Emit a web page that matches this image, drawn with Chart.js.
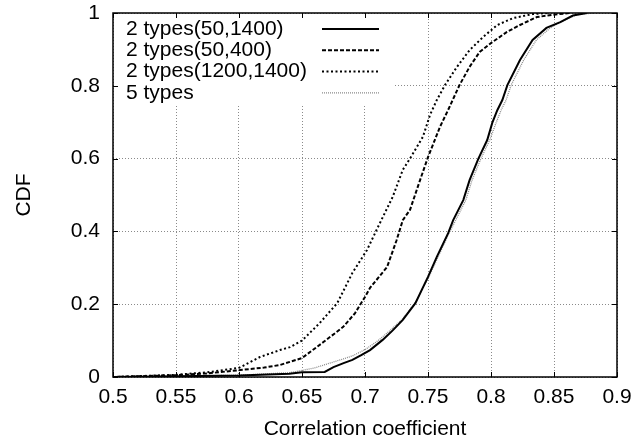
<!DOCTYPE html>
<html lang="en">
<head>
  <meta charset="UTF-8" />
  <title>CDF of correlation coefficient</title>
  <script src="https://cdn.jsdelivr.net/npm/chart.js"></script>
  <style>
    * { margin: 0; padding: 0; box-sizing: border-box; }
    body { background: white; width: 635px; height: 444px; overflow: hidden; }
    canvas { display: block; }
  </style>
</head>
<body>
<canvas id="cdfChart" width="635" height="444"></canvas>
<script>
// tick positions and labels
const xTicks = [0.5, 0.55, 0.6, 0.65, 0.7, 0.75, 0.8, 0.85, 0.9];
const xTickLabels = ['0.5', '0.55', '0.6', '0.65', '0.7', '0.75', '0.8', '0.85', '0.9'];
const yTicks = [0, 0.2, 0.4, 0.6, 0.8, 1];
const yTickLabels = ['0', '0.2', '0.4', '0.6', '0.8', '1'];

const seriesNames = ['2 types(50,1400)', '2 types(50,400)', '2 types(1200,1400)', '5 types'];

// 2 types(50,1400)
const x50_1400 = [0.50, 0.55, 0.60, 0.64, 0.650, 0.668, 0.675, 0.683, 0.690, 0.697, 0.704, 0.714, 0.722, 0.730, 0.740, 0.750, 0.757, 0.766, 0.770, 0.778, 0.783, 0.790, 0.797, 0.801, 0.805, 0.809, 0.813, 0.823, 0.833, 0.844, 0.855, 0.865, 0.876];
const y50_1400 = [0, 0.002, 0.004, 0.009, 0.013, 0.014, 0.027, 0.038, 0.047, 0.060, 0.074, 0.102, 0.128, 0.157, 0.203, 0.275, 0.330, 0.395, 0.431, 0.486, 0.541, 0.600, 0.651, 0.698, 0.733, 0.761, 0.802, 0.871, 0.926, 0.959, 0.975, 0.993, 1.0];

// 2 types(50,400)
const x50_400 = [0.50, 0.55, 0.575, 0.601, 0.620, 0.6325, 0.650, 0.667, 0.6825, 0.692, 0.700, 0.704, 0.7175, 0.725, 0.730, 0.7357, 0.7437, 0.750, 0.7595, 0.7667, 0.775, 0.783, 0.791, 0.801, 0.8127, 0.823, 0.8365, 0.849, 0.862];
const y50_400 = [0, 0.005, 0.010, 0.019, 0.026, 0.033, 0.052, 0.096, 0.137, 0.175, 0.220, 0.245, 0.302, 0.375, 0.431, 0.459, 0.541, 0.604, 0.687, 0.739, 0.802, 0.852, 0.893, 0.920, 0.948, 0.967, 0.989, 0.995, 1.0];

// 2 types(1200,1400)
const x1200_1400 = [0.50, 0.55, 0.575, 0.60, 0.6167, 0.6325, 0.6405, 0.650, 0.664, 0.678, 0.690, 0.7016, 0.7103, 0.722, 0.730, 0.7357, 0.746, 0.7516, 0.757, 0.7635, 0.773, 0.783, 0.7937, 0.805, 0.8175, 0.833, 0.845];
const y1200_1400 = [0, 0.006, 0.013, 0.025, 0.055, 0.074, 0.082, 0.100, 0.148, 0.203, 0.286, 0.349, 0.412, 0.495, 0.569, 0.600, 0.660, 0.720, 0.761, 0.802, 0.852, 0.898, 0.934, 0.967, 0.986, 0.997, 1.0];

// 5 types
const x5types = [0.50, 0.55, 0.60, 0.64, 0.650, 0.660, 0.672, 0.683, 0.690, 0.700, 0.710, 0.720, 0.730, 0.740, 0.750, 0.758, 0.766, 0.772, 0.780, 0.785, 0.792, 0.799, 0.804, 0.808, 0.812, 0.816, 0.826, 0.836, 0.847, 0.858, 0.868, 0.881];
const y5types = [0, 0.002, 0.005, 0.012, 0.018, 0.025, 0.038, 0.050, 0.058, 0.075, 0.099, 0.128, 0.160, 0.205, 0.270, 0.330, 0.390, 0.431, 0.486, 0.541, 0.600, 0.651, 0.698, 0.733, 0.761, 0.802, 0.871, 0.926, 0.959, 0.980, 0.995, 1.0];

const FONT = "'Liberation Sans', Arial, Helvetica, sans-serif";

function points(xs, ys) {
  return xs.map((x, i) => ({ x: x, y: ys[i] }));
}

// gnuplot-like frame: legend backdrop, inward ticks on all four sides, box
const frame = {
  id: 'frame',
  beforeDatasetsDraw(chart) {
    const { ctx, chartArea: a } = chart;
    ctx.save();
    ctx.fillStyle = 'white';
    ctx.fillRect(a.left + 1, a.top + 1, 279, 91);
    ctx.restore();
  },
  afterDraw(chart) {
    const { ctx, chartArea: a, scales } = chart;
    const len = 5;
    ctx.save();
    ctx.strokeStyle = 'black';
    ctx.lineWidth = 1;
    ctx.beginPath();
    xTicks.forEach(v => {
      const px = Math.round(scales.x.getPixelForValue(v)) + 0.5;
      ctx.moveTo(px, a.bottom); ctx.lineTo(px, a.bottom - len);
      ctx.moveTo(px, a.top); ctx.lineTo(px, a.top + len);
    });
    yTicks.forEach(v => {
      const py = Math.round(scales.y.getPixelForValue(v)) + 0.5;
      ctx.moveTo(a.left, py); ctx.lineTo(a.left + len, py);
      ctx.moveTo(a.right, py); ctx.lineTo(a.right - len, py);
    });
    ctx.stroke();
    ctx.lineWidth = 1.5;
    ctx.strokeRect(a.left, a.top, a.right - a.left, a.bottom - a.top);

    // legend: text on the left, line sample on the right
    ctx.font = '21px ' + FONT;
    ctx.fillStyle = 'black';
    ctx.textBaseline = 'middle';
    ctx.textAlign = 'left';
    chart.data.datasets.forEach((ds, i) => {
      const y = a.top + 16 + i * 21.3;
      ctx.fillText(ds.label, a.left + 13, y);
      ctx.strokeStyle = ds.borderColor;
      ctx.lineWidth = ds.borderWidth;
      ctx.setLineDash(ds.borderDash || []);
      ctx.beginPath();
      ctx.moveTo(a.left + 209, y);
      ctx.lineTo(a.left + 266, y);
      ctx.stroke();
      ctx.setLineDash([]);
    });
    ctx.restore();
  }
};

const ctx = document.getElementById('cdfChart').getContext('2d');
new Chart(ctx, {
  type: 'line',
  data: {
    datasets: [
      { label: seriesNames[0], data: points(x50_1400, y50_1400), borderColor: 'black', borderWidth: 2 },
      { label: seriesNames[1], data: points(x50_400, y50_400), borderColor: 'black', borderWidth: 2, borderDash: [4, 2] },
      { label: seriesNames[2], data: points(x1200_1400, y1200_1400), borderColor: 'black', borderWidth: 2, borderDash: [2, 2.5] },
      { label: seriesNames[3], data: points(x5types, y5types), borderColor: '#8a8a8a', borderWidth: 1.3, borderDash: [1, 1] }
    ]
  },
  options: {
    responsive: false,
    animation: false,
    devicePixelRatio: 1,
    layout: { padding: { top: 13, right: 18, left: 0, bottom: 2 } },
    elements: { point: { radius: 0 }, line: { tension: 0, fill: false } },
    plugins: { legend: { display: false }, tooltip: { enabled: false } },
    scales: {
      x: {
        type: 'linear',
        min: 0.5,
        max: 0.9,
        afterBuildTicks: s => { s.ticks = xTicks.map(v => ({ value: v })); },
        afterFit: s => { s.height = 65; s.paddingLeft = 0; s.paddingRight = 0; },
        ticks: {
          autoSkip: false,
          maxRotation: 0,
          padding: 8,
          color: 'black',
          font: { family: FONT, size: 21 },
          callback: (v, i) => xTickLabels[i]
        },
        grid: { color: '#8a8a8a', lineWidth: 1, drawTicks: false },
        border: { display: false, dash: [1, 2] },
        title: { display: true, text: 'Correlation coefficient', color: 'black', font: { family: FONT, size: 21 }, padding: { top: 0, bottom: 0 } }
      },
      y: {
        type: 'linear',
        min: 0,
        max: 1,
        afterBuildTicks: s => { s.ticks = yTicks.map(v => ({ value: v })); },
        afterFit: s => { s.width = 113; s.paddingTop = 0; s.paddingBottom = 0; },
        ticks: {
          padding: 13,
          color: 'black',
          font: { family: FONT, size: 21 },
          callback: (v, i) => yTickLabels[i]
        },
        grid: { color: '#8a8a8a', lineWidth: 1, drawTicks: false },
        border: { display: false, dash: [1, 2] },
        title: { display: true, text: 'CDF', color: 'black', font: { family: FONT, size: 21 }, padding: { top: 12, bottom: 0 } }
      }
    }
  },
  plugins: [frame]
});
</script>
</body>
</html>
